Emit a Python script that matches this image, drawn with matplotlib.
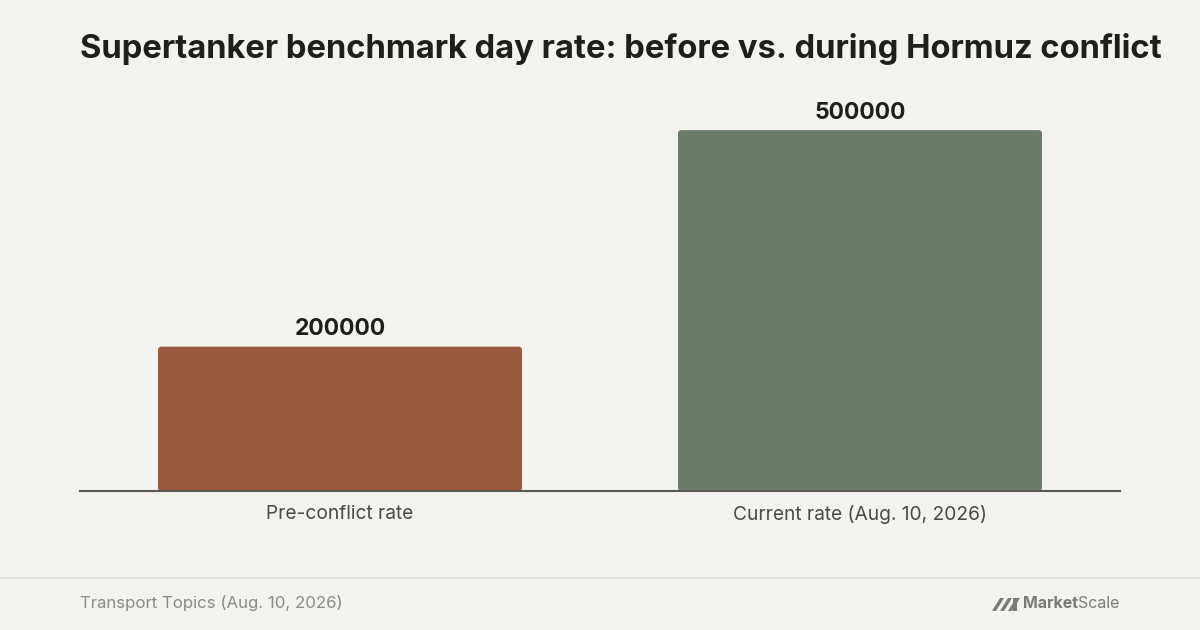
import matplotlib.pyplot as plt
from matplotlib.patches import FancyBboxPatch, Polygon

# data
categories = ['Pre-conflict rate', 'Current rate (Aug. 10, 2026)']
values = [200000, 500000]
bar_colors = ['#9A5A3E', '#6B7B6A']

title = 'Supertanker benchmark day rate: before vs. during Hormuz conflict'
source = 'Transport Topics (Aug. 10, 2026)'

bg = '#F3F2EE'
plt.rcParams['font.family'] = ['Inter', 'DejaVu Sans']

fig = plt.figure(figsize=(12, 6.3), dpi=100, facecolor=bg)
ax = fig.add_axes([80 / 1200, 139 / 630, 1040 / 1200, 397 / 630])
ax.set_facecolor(bg)

x = list(range(len(categories)))
bars = ax.bar(x, values, width=0.7, color=bar_colors)
ax.set_xlim(-0.5, 1.5)
ax.set_ylim(0, 550000)

# rounded corners: swap each rectangle for a rounded box of the same size
aspect = (500000 / 361) * 520
for b in bars:
    rb = FancyBboxPatch((b.get_x(), b.get_y()), b.get_width(), b.get_height(),
                        boxstyle='round,pad=0,rounding_size=0.006',
                        mutation_aspect=aspect, facecolor=b.get_facecolor(),
                        edgecolor='none', zorder=2)
    b.set_visible(False)
    ax.add_patch(rb)
    ax.text(b.get_x() + b.get_width() / 2, b.get_height() + 9000,
            f'{int(b.get_height())}', ha='center', va='bottom',
            fontsize=16.5, fontweight='bold', color='#1F1E1C')

ax.set_xticks(x)
ax.set_xticklabels(categories, fontsize=13.8, color='#4A4946')
ax.tick_params(axis='x', length=0, pad=10)
ax.set_yticks([])
for s in ['top', 'right', 'left']:
    ax.spines[s].set_visible(False)
ax.spines['bottom'].set_color('#5A5853')
ax.spines['bottom'].set_linewidth(1.5)
ax.spines['bottom'].set_zorder(3)

fig.text(80 / 1200, 1 - 49 / 630, title, fontsize=23.6, fontweight='bold',
         color='#1F1E1C', ha='left', va='center')

# footer
fig.add_artist(plt.Line2D([0, 1], [1 - 578 / 630] * 2, transform=fig.transFigure,
                          color='#E4E2DD', lw=1.5))
fig.text(80 / 1200, 1 - 603 / 630, source, fontsize=12.1, color='#8B8A85',
         ha='left', va='center')

logo_c = '#7A7A78'
scale_t = fig.text(1119 / 1200, 1 - 604 / 630, 'Scale', fontsize=11.5,
                   color=logo_c, ha='right', va='center')
ax.annotate('Market', xy=(0, 0.5), xycoords=scale_t, ha='right', va='center',
            fontsize=11.5, fontweight='bold', color=logo_c, annotation_clip=False)


def px(xp, yp):
    return (xp / 1200, 1 - yp / 630)


for x0 in [992, 1000, 1008]:
    poly = Polygon([px(x0, 611), px(x0 + 4, 611), px(x0 + 12, 598), px(x0 + 8, 598)],
                   closed=True, transform=fig.transFigure, facecolor=logo_c,
                   edgecolor='none')
    fig.add_artist(poly)
fig.add_artist(Polygon([px(1013, 611), px(1017, 611), px(1017, 598), px(1013, 598)],
                       closed=True, transform=fig.transFigure, facecolor=logo_c,
                       edgecolor='none'))

fig.savefig('out.png', dpi=100, facecolor=bg)
